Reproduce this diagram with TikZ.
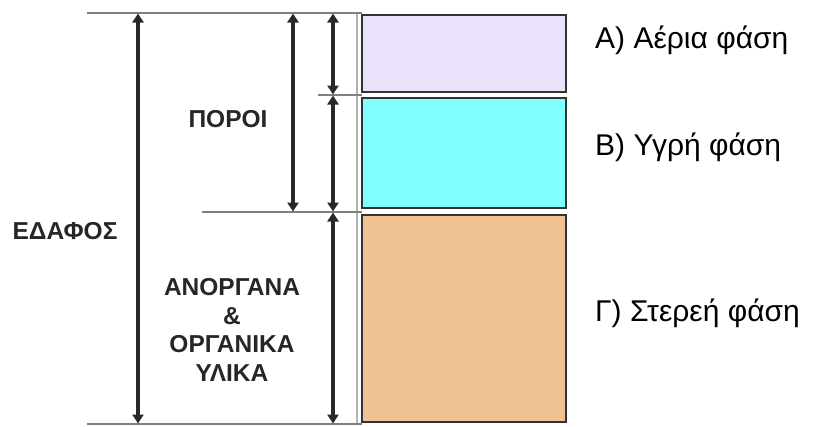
\documentclass[tikz,border=0pt]{standalone}
\usepackage{fontspec}
\setmainfont{Liberation Sans}
\usetikzlibrary{arrows.meta}
\definecolor{airc}{RGB}{233,226,250}
\definecolor{waterc}{RGB}{128,255,255}
\definecolor{solidc}{RGB}{240,193,146}
\definecolor{dimc}{RGB}{40,40,40}
\definecolor{refc}{RGB}{128,128,128}
\tikzset{
  dimarrow/.style={draw=dimc, line width=3.2pt, {Triangle[width=11pt,length=9pt]}-{Triangle[width=11pt,length=9pt]}, shorten <=0.5pt, shorten >=0.5pt},
  refline/.style={draw=refc, line width=2.5pt},
  phase/.style={draw=black!80, line width=1.6pt},
  leftlbl/.style={font=\fontsize{24.5}{28.5}\selectfont\bfseries, text=black!85, align=center, inner sep=0pt},
  rightlbl/.style={font=\fontsize{30}{34}\selectfont, anchor=base west, inner sep=0pt}
}
\begin{document}
\begin{tikzpicture}[x=1pt,y=-1pt]
\useasboundingbox (0,0) rectangle (814,426);
% phase boxes
\fill[airc] (362,15) rectangle (566,92);
\draw[phase] (362,15) rectangle (566,92);
\fill[waterc] (362,98) rectangle (566,208);
\draw[phase] (362,98) rectangle (566,208);
\fill[solidc] (362,215) rectangle (566,422);
\draw[phase] (362,215) rectangle (566,422);
\draw[draw=refc!60, line width=2pt] (357,13) -- (357,424);
% reference lines
\coordinate (t0) at (87,13);   \coordinate (t1) at (362,13);
\coordinate (m0) at (318,95);  \coordinate (m1) at (362,95);
\coordinate (s0) at (202,212); \coordinate (s1) at (362,212);
\coordinate (b0) at (87,424);  \coordinate (b1) at (362,424);
\draw[refline] (t0) -- (t1);
\draw[refline] (m0) -- (m1);
\draw[refline] (s0) -- (s1);
\draw[refline] (b0) -- (b1);
% arrow end points
\coordinate (e1) at (138,13);  \coordinate (e2) at (138,424);
\coordinate (p1) at (293,13);  \coordinate (p2) at (293,212);
\coordinate (a1) at (333,13);  \coordinate (a2) at (333,95);
\coordinate (w2) at (333,212); \coordinate (g2) at (333,424);
\draw[dimarrow] (e1) -- (e2);
\draw[dimarrow] (p1) -- (p2);
\draw[dimarrow] (a1) -- (a2);
\draw[dimarrow] (a2) -- (w2);
\draw[dimarrow] (w2) -- (g2);
% left labels
\node[leftlbl] (edafos) at (65,231) {ΕΔΑΦΟΣ};
\node[leftlbl] (poroi) at (228,119) {ΠΟΡΟΙ};
\node[leftlbl] (ylika) at (232,330) {ΑΝΟΡΓΑΝΑ\\\&\\ΟΡΓΑΝΙΚΑ\\ΥΛΙΚΑ};
% right labels
\node[rightlbl] (aer) at (595,48) {Α) Αέρια φάση};
\node[rightlbl] (ygr) at (595,155) {Β) Υγρή φάση};
\node[rightlbl] (ster) at (595,321) {Γ) Στερεή φάση};
\end{tikzpicture}
\end{document}
